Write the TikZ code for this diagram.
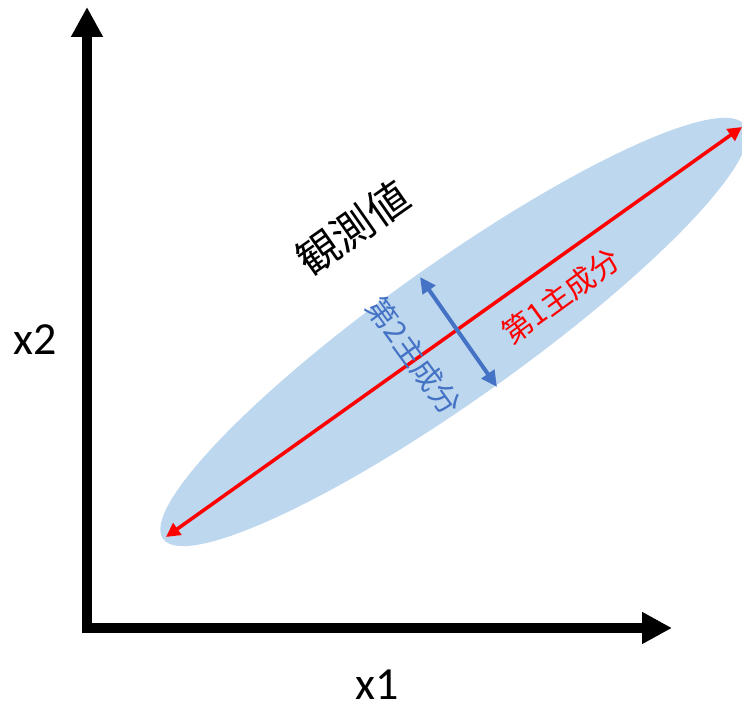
\documentclass[tikz,border=0pt]{standalone}
\usepackage{fontspec}
\setmainfont{Carlito}
\newfontfamily\jp{Noto Sans CJK JP}
\usetikzlibrary{arrows.meta}
\definecolor{ellcol}{HTML}{BDD7EE}
\definecolor{pcred}{HTML}{FF0000}
\definecolor{pcblue}{HTML}{4472C4}
\tikzset{
  axisline/.style={line width=10pt, line join=miter, -{Triangle[length=30pt,width=30pt]}},
  pcone/.style={pcred, line width=3.5pt, {Triangle[length=14pt,width=14pt]}-{Triangle[length=14pt,width=14pt]}},
  pctwo/.style={pcblue, line width=4pt, {Triangle[length=16pt,width=15pt]}-{Triangle[length=16pt,width=15pt]}},
  axlabel/.style={inner sep=0pt, font=\fontsize{46}{50}\selectfont},
  jplabel/.style={inner sep=0pt, font=\jp\fontsize{30}{34}\selectfont}
}
\begin{document}
\begin{tikzpicture}[x=1pt,y=1pt]
\useasboundingbox (0,0) rectangle (742,706);
% ellipse of observations
\fill[ellcol, rotate around={35.4:(454,374)}] (454,374) ellipse [x radius=357, y radius=68];
% axes
\coordinate (O) at (87,78);
\coordinate (Ytip) at (87,699);
\coordinate (Xtip) at (672,78);
\draw[axisline] (O) -- (Xtip);
\draw[axisline] (O) -- (Ytip);
\fill (82,73) rectangle (92,83);
% principal components
\coordinate (P1a) at (166,169);
\coordinate (P1b) at (742,579);
\coordinate (P2a) at (420,429);
\coordinate (P2b) at (497,319);
\draw[pcone] (P1a) -- (P1b);
\draw[pctwo] (P2a) -- (P2b);
% labels
\node[axlabel] (lx2) at (35,366) {x2};
\node[axlabel] (lx1) at (377,21) {x1};
\node[inner sep=0pt, font=\jp\fontsize{42}{46}\selectfont, rotate=35] (obs) at (353,478) {観測値};
\node[jplabel, text=pcred, rotate=36] (l1) at (561,410) {第1主成分};
\node[jplabel, text=pcblue, rotate=-54] (l2) at (414,350) {第2主成分};
\end{tikzpicture}
\end{document}
